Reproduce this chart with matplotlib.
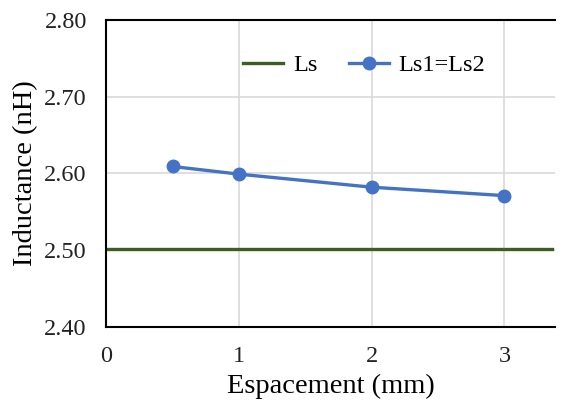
import matplotlib.pyplot as plt

plt.rcParams['font.family'] = ['Liberation Serif', 'DejaVu Serif']

espacement = [0.5, 1, 2, 3]
ls12 = [2.609, 2.599, 2.582, 2.571]
ls_x = [0, 3.36]
ls_val = [2.502, 2.502]

x_ticks = [0, 1, 2, 3]
y_ticks = [2.40, 2.50, 2.60, 2.70, 2.80]

fig = plt.figure(figsize=(5.65, 4.07), dpi=100)
ax = fig.add_axes([0.188, 0.197, 0.794, 0.754])

ax.plot(ls_x, ls_val, color='#3B5E22', lw=2.4, label='Ls')
ax.plot(espacement, ls12, color='#4472C4', lw=2.4, marker='o', ms=9, label='Ls1=Ls2')

ax.set_xlim(0, 3.38)
ax.set_ylim(2.40, 2.80)
ax.set_xticks(x_ticks)
ax.set_yticks(y_ticks)
ax.set_yticklabels([f'{v:.2f}' for v in y_ticks])
ax.tick_params(length=0, labelsize=17.5, colors='#222222')
ax.tick_params(axis='x', pad=14)
ax.tick_params(axis='y', pad=14)
ax.grid(True, color='#d9d9d9', lw=1.2)
ax.set_axisbelow(True)

for s in ['left', 'bottom', 'top']:
    ax.spines[s].set_color('black')
    ax.spines[s].set_linewidth(1.5)
ax.spines['right'].set_visible(False)

ax.set_xlabel('Espacement (mm)', fontsize=20.5, labelpad=5)
ax.set_ylabel('Inductance (nH)', fontsize=20.5, labelpad=4)

ax.legend(loc='upper center', bbox_to_anchor=(0.575, 0.96), ncol=2, frameon=False,
          fontsize=17.5, handlelength=1.65, columnspacing=1.3, handletextpad=0.4)

fig.savefig('out.png', dpi=100)
